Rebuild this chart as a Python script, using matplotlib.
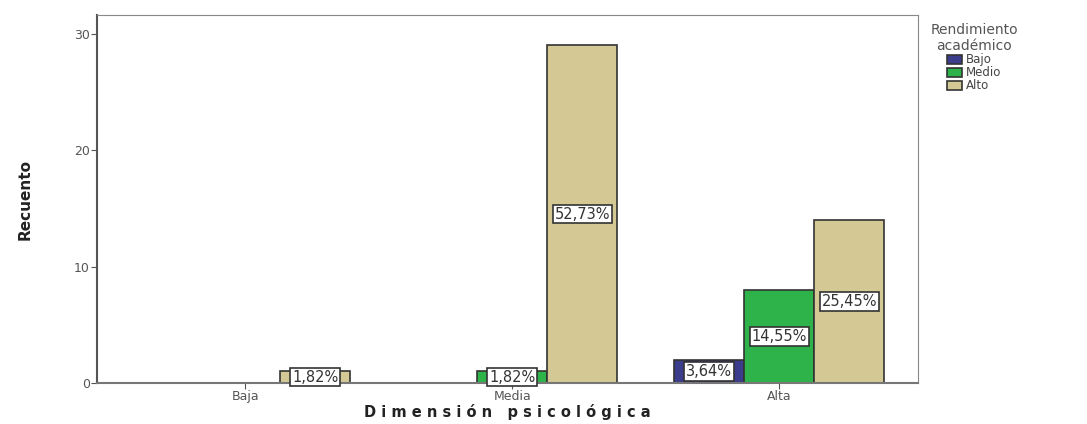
import numpy as np
import matplotlib.pyplot as plt

categorias = ["Baja", "Media", "Alta"]
series = ["Bajo", "Medio", "Alto"]
bajo = [0, 0, 2]
medio = [0, 1, 8]
alto = [1, 29, 14]
porcentajes = {
    "Bajo": ["", "", "3,64%"],
    "Medio": ["", "1,82%", "14,55%"],
    "Alto": ["1,82%", "52,73%", "25,45%"],
}
colores = ["#3b3d8c", "#2eb34b", "#d4c994"]

fig = plt.figure(figsize=(10.87, 4.24), dpi=100)
ax = fig.add_axes([0.0892, 0.0967, 0.7553, 0.8679])

x = np.arange(len(categorias))
w = 0.263
valores = [bajo, medio, alto]
for i, (nombre, vals, c) in enumerate(zip(series, valores, colores)):
    pos = x + (i - 1) * w
    ax.bar(pos, vals, width=w, color=c, edgecolor="#333333", linewidth=1.2,
           label=nombre, zorder=2)
    for p, v, txt in zip(pos, vals, porcentajes[nombre]):
        if txt:
            ax.text(p, max(v / 2, 0.4), txt, ha="center", va="center",
                    fontsize=10.5, color="#333333", zorder=3,
                    bbox=dict(boxstyle="square,pad=0.12", fc="white",
                              ec="#333333", lw=1.2))

ax.set_xlim(-0.555, 2.52)
ax.set_ylim(0, 31.6)
ax.set_yticks([0, 10, 20, 30])
ax.set_xticks(x)
ax.set_xticklabels(categorias)
ax.tick_params(colors="#555555", labelsize=9, length=4, pad=1)
for s in ax.spines.values():
    s.set_color("#888888")
ax.spines["left"].set_color("#555555")
ax.spines["left"].set_linewidth(1.5)
ax.spines["bottom"].set_color("#777777")
ax.spines["bottom"].set_linewidth(1.5)

ax.set_ylabel("Recuento", fontsize=11, fontweight="bold", color="#222222")
ax.yaxis.set_label_coords(-0.078, 0.5)
ax.set_xlabel("D i m e n s i ó n   p s i c o l ó g i c a", fontsize=10.5,
              fontweight="bold", color="#222222", labelpad=1)

leg = ax.legend(title="Rendimiento\nacadémico", loc="upper left",
                bbox_to_anchor=(1.005, 1.0), frameon=False, fontsize=8.5,
                title_fontsize=10, handlelength=1.3, handleheight=0.8,
                labelspacing=0.0, borderaxespad=0.3, handletextpad=0.3)
leg.get_title().set_color("#555555")
leg.get_title().set_multialignment("center")
for t in leg.get_texts():
    t.set_color("#444444")

fig.savefig("out.png", dpi=100)
